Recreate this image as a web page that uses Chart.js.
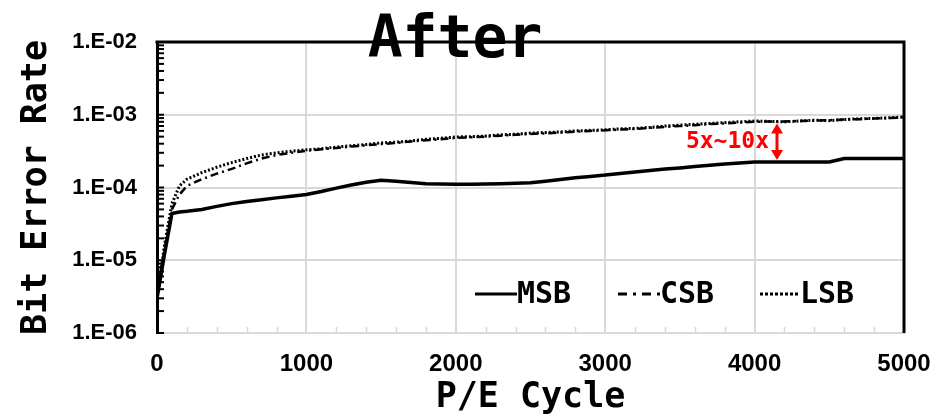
<!DOCTYPE html>
<html>
<head>
<meta charset="utf-8">
<script src="https://cdn.jsdelivr.net/npm/chart.js@4.4.1/dist/chart.umd.min.js"></script>
<style>
  html, body { margin: 0; padding: 0; background: #fff; }
  #wrap { width: 943px; height: 419px; }
</style>
</head>
<body>
<div id="wrap"><canvas id="c" width="943" height="419"></canvas></div>
<script>
// ---- data ----
const peCycles = [0,50,100,150,200,300,400,500,600,700,800,900,1000,1100,1200,1300,1400,1500,1600,1700,1800,1900,2000,2100,2200,2300,2400,2500,2600,2700,2800,2900,3000,3100,3200,3300,3400,3500,3600,3700,3800,3900,4000,4100,4200,4300,4400,4500,4600,4700,4800,4900,5000];
const msb = [3.0e-6,1.2e-5,4.4e-5,4.6e-5,4.7e-5,5.0e-5,5.5e-5,6.0e-5,6.4e-5,6.8e-5,7.2e-5,7.6e-5,8.0e-5,8.8e-5,9.8e-5,1.08e-4,1.18e-4,1.26e-4,1.22e-4,1.17e-4,1.13e-4,1.12e-4,1.11e-4,1.11e-4,1.12e-4,1.13e-4,1.14e-4,1.16e-4,1.22e-4,1.29e-4,1.36e-4,1.42e-4,1.48e-4,1.56e-4,1.63e-4,1.71e-4,1.79e-4,1.86e-4,1.94e-4,2.02e-4,2.10e-4,2.17e-4,2.24e-4,2.25e-4,2.25e-4,2.25e-4,2.25e-4,2.25e-4,2.50e-4,2.50e-4,2.50e-4,2.50e-4,2.50e-4];
const csb = [3.0e-6,1.4e-5,5.0e-5,8.0e-5,1.05e-4,1.3e-4,1.55e-4,1.8e-4,2.15e-4,2.5e-4,2.8e-4,3.0e-4,3.2e-4,3.35e-4,3.5e-4,3.65e-4,3.8e-4,3.95e-4,4.1e-4,4.3e-4,4.45e-4,4.6e-4,4.8e-4,4.9e-4,5.0e-4,5.15e-4,5.3e-4,5.45e-4,5.55e-4,5.7e-4,5.85e-4,6.0e-4,6.1e-4,6.25e-4,6.4e-4,6.6e-4,6.8e-4,7.0e-4,7.2e-4,7.45e-4,7.6e-4,7.8e-4,8.0e-4,8.1e-4,8.1e-4,8.2e-4,8.3e-4,8.4e-4,8.6e-4,8.7e-4,8.9e-4,9.0e-4,9.2e-4];
const lsb = [3.0e-6,1.6e-5,6.0e-5,1.05e-4,1.3e-4,1.6e-4,1.9e-4,2.2e-4,2.5e-4,2.8e-4,3.0e-4,3.15e-4,3.3e-4,3.4e-4,3.6e-4,3.75e-4,3.9e-4,4.1e-4,4.2e-4,4.35e-4,4.6e-4,4.75e-4,4.95e-4,5.0e-4,5.1e-4,5.3e-4,5.4e-4,5.6e-4,5.7e-4,5.8e-4,6.0e-4,6.1e-4,6.2e-4,6.4e-4,6.5e-4,6.7e-4,7.0e-4,7.2e-4,7.4e-4,7.6e-4,7.8e-4,8.0e-4,8.2e-4,8.1e-4,8.0e-4,8.2e-4,8.4e-4,8.3e-4,8.6e-4,8.8e-4,8.9e-4,9.1e-4,9.3e-4];
const yTicks = [1e-6, 1e-5, 1e-4, 1e-3, 1e-2];
const yTickLabels = ['1.E-06','1.E-05','1.E-04','1.E-03','1.E-02'];
const xTicks = [0,1000,2000,3000,4000,5000];
const xTickLabels = ['0','1000','2000','3000','4000','5000'];
const xMinorStep = 200;
const seriesNames = ['MSB','CSB','LSB'];
const chartTitle = 'After';
const xTitle = 'P/E Cycle';
const yTitle = 'Bit Error Rate';
const noteText = '5x~10x';
const noteAt = 4150;            // P/E cycle where the arrow sits
const noteFrom = 8.1e-4, noteTo = 2.25e-4;

const pts = arr => peCycles.map((x, i) => ({x: x, y: arr[i]}));
const MONO = '"DejaVu Sans Mono", monospace';
const SANS = '"Liberation Sans", Arial, sans-serif';
const GRID = '#d9d9d9';

const decor = {
  id: 'decor',
  afterDatasetsDraw(chart) {
    const {ctx, chartArea: a, scales: {x, y}} = chart;
    ctx.save();
    // x minor ticks (gray, pointing up)
    ctx.strokeStyle = GRID; ctx.lineWidth = 1.5;
    for (let v = 0; v <= 5000; v += xMinorStep) {
      if (v % 1000 === 0) continue;
      const px = Math.round(x.getPixelForValue(v)) + 0.5;
      ctx.beginPath(); ctx.moveTo(px, a.bottom); ctx.lineTo(px, a.bottom - 6); ctx.stroke();
    }
    // y minor ticks (black, pointing right)
    ctx.strokeStyle = '#000'; ctx.lineWidth = 2;
    for (let e = -6; e < -2; e++) {
      for (let m = 1; m <= 9; m++) {
        const py = y.getPixelForValue(m * Math.pow(10, e));
        ctx.beginPath(); ctx.moveTo(a.left, py); ctx.lineTo(a.left + 7, py); ctx.stroke();
      }
    }
    // top and right borders
    ctx.strokeStyle = '#000'; ctx.lineWidth = 3;
    ctx.beginPath();
    ctx.moveTo(a.left - 1.5, a.top); ctx.lineTo(a.right, a.top); ctx.lineTo(a.right, a.bottom);
    ctx.stroke();

    // legend
    const ly = 294;
    ctx.font = 'bold 30px ' + MONO;
    ctx.textBaseline = 'middle'; ctx.textAlign = 'left'; ctx.fillStyle = '#000';
    const items = [
      {x0: 475, x1: 517, dash: [], w: 3, label: seriesNames[0]},
      {x0: 618, x1: 660, dash: [9, 6, 3, 6], w: 3, label: seriesNames[1]},
      {x0: 760, x1: 800, dash: [3, 2], w: 3, label: seriesNames[2]}
    ];
    items.forEach(it => {
      ctx.setLineDash(it.dash); ctx.lineWidth = it.w; ctx.strokeStyle = '#000';
      ctx.beginPath(); ctx.moveTo(it.x0, ly); ctx.lineTo(it.x1, ly); ctx.stroke();
      ctx.setLineDash([]);
      ctx.fillText(it.label, it.x1, ly + 1);
    });

    // annotation
    const ax = x.getPixelForValue(noteAt);
    const ya = y.getPixelForValue(noteFrom) + 2, yb = y.getPixelForValue(noteTo) - 2;
    ctx.strokeStyle = '#ff0000'; ctx.fillStyle = '#ff0000'; ctx.lineWidth = 3;
    ctx.beginPath(); ctx.moveTo(ax, ya + 8); ctx.lineTo(ax, yb - 8); ctx.stroke();
    ctx.beginPath(); ctx.moveTo(ax, ya); ctx.lineTo(ax - 6, ya + 10); ctx.lineTo(ax + 6, ya + 10); ctx.closePath(); ctx.fill();
    ctx.beginPath(); ctx.moveTo(ax, yb); ctx.lineTo(ax - 6, yb - 10); ctx.lineTo(ax + 6, yb - 10); ctx.closePath(); ctx.fill();
    ctx.font = 'bold 23px ' + MONO;
    ctx.textAlign = 'right'; ctx.textBaseline = 'middle';
    ctx.fillText(noteText, ax - 8, (ya + yb) / 2);

    // chart title
    ctx.fillStyle = '#000';
    ctx.font = 'bold 58px ' + MONO;
    ctx.textAlign = 'center'; ctx.textBaseline = 'alphabetic';
    ctx.fillText(chartTitle, 455, 57);
    ctx.restore();
  }
};

new Chart(document.getElementById('c'), {
  type: 'line',
  data: {
    datasets: [
      {label: seriesNames[0], data: pts(msb), borderColor: '#000', borderWidth: 3.5, pointRadius: 0, tension: 0},
      {label: seriesNames[1], data: pts(csb), borderColor: '#000', borderWidth: 2.5, borderDash: [8, 4, 2, 4], pointRadius: 0, tension: 0},
      {label: seriesNames[2], data: pts(lsb), borderColor: '#000', borderWidth: 3, borderDash: [2, 2], pointRadius: 0, tension: 0}
    ]
  },
  options: {
    responsive: false,
    animation: false,
    devicePixelRatio: 1,
    layout: {padding: {left: 0, right: 39, top: 42, bottom: 0}},
    plugins: {legend: {display: false}, title: {display: false}, tooltip: {enabled: false}},
    scales: {
      x: {
        type: 'linear', min: 0, max: 5000,
        afterBuildTicks: s => { s.ticks = xTicks.map(v => ({value: v})); },
        afterFit: s => { s.height = 86; s.paddingLeft = 0; s.paddingRight = 0; },
        grid: {color: GRID, lineWidth: 2, drawTicks: false},
        border: {display: true, color: GRID, width: 2},
        ticks: {
          color: '#000', padding: 17, maxRotation: 0, font: {family: SANS, weight: 'bold', size: 24},
          callback: v => { const i = xTicks.indexOf(v); return i >= 0 ? xTickLabels[i] : ''; }
        },
        title: {display: true, text: xTitle, color: '#000', padding: {top: 0, bottom: 0}, font: {family: MONO, weight: 'bold', size: 35}}
      },
      y: {
        type: 'logarithmic', min: 1e-6, max: 1e-2,
        afterBuildTicks: s => { s.ticks = yTicks.map(v => ({value: v})); },
        afterFit: s => { s.width = 157; s.paddingTop = 0; s.paddingBottom = 0; },
        grid: {color: GRID, lineWidth: 2, drawTicks: false},
        border: {display: true, color: '#000', width: 3},
        ticks: {
          color: '#000', padding: 20, font: {family: SANS, weight: 'bold', size: 22},
          callback: v => { const i = yTicks.findIndex(t => Math.abs(t - v) / t < 1e-6); return i >= 0 ? yTickLabels[i] : ''; }
        },
        title: {display: true, text: yTitle, color: '#000', padding: {top: 16, bottom: 0}, font: {family: MONO, weight: 'bold', size: 35}}
      }
    }
  },
  plugins: [decor]
});
</script>
</body>
</html>
